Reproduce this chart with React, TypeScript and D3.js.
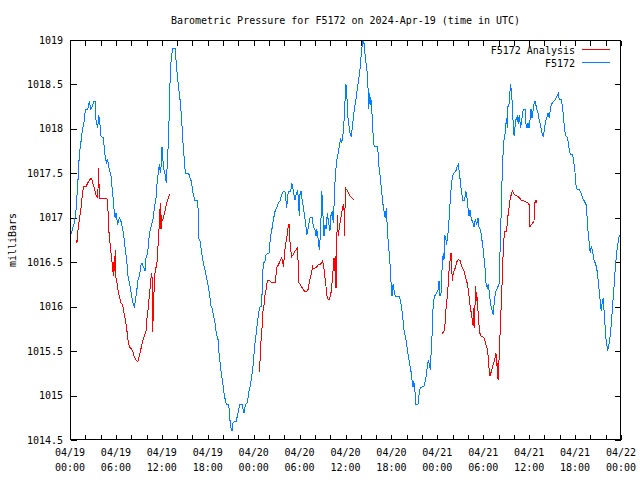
import React from 'react';
import * as d3 from 'd3';

const TITLE = 'Barometric Pressure for F5172 on 2024-Apr-19 (time in UTC)';
const Y_LABEL = 'milliBars';
const SERIES_NAMES = ['F5172 Analysis', 'F5172'];
const SERIES_COLORS = ['#ff0000', '#0080ff'];
const START_UTC = Date.UTC(2024, 3, 19);
const END_UTC = Date.UTC(2024, 3, 22);
const Y_DOMAIN = [1014.5, 1019];
const Y_TICKS = [1014.5, 1015, 1015.5, 1016, 1016.5, 1017, 1017.5, 1018, 1018.5, 1019];

// [hours since 2024-04-19 00:00 UTC, millibars]
const station: [number, number][] = [
[0,1016.78],[0.56,1016.94],[0.78,1017.08],[1.01,1017.37],[1.22,1017.71],[1.44,1017.86],[1.66,1018.01],[1.87,1018.09],[2.00,1018.22],[2.31,1018.22],[2.52,1018.31],[2.74,1018.22],[2.97,1018.27],[3.10,1018.31],[3.31,1018.31],[3.40,1018.10],[3.62,1018.01],[3.75,1018.16],[3.92,1018.05],[4.05,1017.92],[4.35,1017.90],[4.48,1017.79],[4.61,1017.67],[4.80,1017.62],[4.93,1017.65],[5.14,1017.54],[5.36,1017.47],[5.49,1017.35],[5.66,1017.20],[5.79,1017.05],[5.92,1017.00],[6.01,1017.05],[6.23,1016.92],[6.44,1017.00],[6.66,1016.96],[6.89,1016.87],[7.10,1016.75],[7.23,1016.64],[7.41,1016.53],[7.54,1016.36],[7.75,1016.27],[7.97,1016.17],[8.10,1016.10],[8.27,1016.02],[8.40,1016.00],[8.53,1016.06],[8.72,1016.17],[8.85,1016.29],[9.06,1016.34],[9.28,1016.47],[9.41,1016.49],[9.58,1016.45],[9.84,1016.40],[9.93,1016.55],[10.15,1016.60],[10.28,1016.74],[10.45,1016.85],[10.71,1016.94],[10.89,1017.00],[11.02,1017.11],[11.24,1017.22],[11.33,1017.35],[11.50,1017.48],[11.67,1017.60],[11.80,1017.52],[11.85,1017.50],[12.02,1017.80],[12.15,1017.64],[12.28,1017.54],[12.45,1017.48],[12.58,1017.39],[12.71,1017.60],[12.90,1017.95],[13.03,1018.42],[13.16,1018.72],[13.33,1018.85],[13.46,1018.91],[13.76,1018.91],[13.89,1018.72],[14.02,1018.61],[14.20,1018.46],[14.33,1018.37],[14.47,1018.25],[14.64,1018.03],[14.77,1017.84],[14.90,1017.69],[15.07,1017.50],[15.51,1017.50],[15.68,1017.45],[15.85,1017.41],[16.07,1017.28],[16.29,1017.20],[16.60,1017.20],[16.73,1017.11],[16.82,1016.77],[16.99,1016.74],[17.16,1016.64],[17.29,1016.55],[17.47,1016.47],[17.60,1016.43],[17.81,1016.34],[18.03,1016.25],[18.25,1016.13],[18.39,1016.02],[18.56,1015.98],[18.69,1015.93],[18.91,1015.84],[19.12,1015.70],[19.34,1015.63],[19.47,1015.48],[19.64,1015.35],[19.77,1015.25],[19.99,1015.12],[20.12,1015.03],[20.29,1014.95],[20.42,1014.90],[20.74,1014.90],[20.87,1014.75],[21.00,1014.65],[21.17,1014.60],[21.30,1014.69],[21.52,1014.71],[21.73,1014.71],[21.86,1014.77],[22.04,1014.84],[22.21,1014.90],[22.48,1014.90],[22.74,1014.80],[22.91,1014.90],[23.17,1014.92],[23.35,1015.03],[23.52,1015.10],[23.69,1015.18],[23.82,1015.27],[24.00,1015.39],[24.08,1015.52],[24.27,1015.65],[24.40,1015.76],[24.53,1015.85],[24.70,1015.95],[24.83,1016.00],[25.05,1016.00],[25.13,1016.27],[25.26,1016.49],[25.48,1016.51],[25.61,1016.58],[25.78,1016.60],[26.00,1016.60],[26.13,1016.72],[26.26,1016.81],[26.44,1016.90],[26.57,1016.98],[26.70,1017.03],[26.83,1017.09],[27.01,1017.11],[27.22,1017.17],[27.44,1017.19],[27.66,1017.26],[27.87,1017.30],[28.09,1017.30],[28.22,1017.19],[28.32,1017.11],[28.45,1017.26],[28.62,1017.30],[28.84,1017.30],[28.97,1017.39],[29.10,1017.34],[29.27,1017.26],[29.40,1017.20],[29.53,1017.26],[29.70,1017.30],[29.83,1017.24],[29.96,1017.02],[30.05,1017.26],[30.18,1017.30],[30.35,1017.19],[30.49,1017.13],[30.62,1017.03],[30.80,1016.94],[30.93,1016.81],[31.06,1016.85],[31.19,1016.92],[31.36,1017.00],[31.66,1017.00],[31.79,1016.90],[32.01,1016.87],[32.14,1016.79],[32.24,1016.87],[32.45,1016.75],[32.58,1016.64],[32.76,1016.87],[32.89,1017.30],[33.02,1017.15],[33.10,1016.90],[33.19,1016.79],[33.32,1016.92],[33.45,1016.87],[33.62,1017.05],[33.80,1016.94],[33.97,1016.85],[34.11,1017.03],[34.24,1017.07],[34.41,1016.94],[34.54,1017.22],[34.67,1017.48],[34.80,1017.60],[34.93,1017.69],[35.06,1017.73],[35.19,1017.80],[35.37,1017.90],[35.50,1017.84],[35.63,1017.90],[35.76,1018.01],[35.89,1018.25],[36.06,1018.50],[36.19,1018.35],[36.33,1018.12],[36.50,1018.01],[36.63,1017.93],[36.76,1017.92],[36.94,1018.05],[37.07,1018.16],[37.20,1018.25],[37.37,1018.33],[37.50,1018.42],[37.72,1018.55],[37.93,1018.70],[38.06,1018.85],[38.25,1018.99],[38.38,1019.00],[38.51,1018.87],[38.68,1018.74],[38.81,1018.65],[38.94,1018.46],[39.03,1018.22],[39.16,1018.40],[39.29,1018.27],[39.37,1018.33],[39.55,1018.03],[39.68,1017.82],[39.89,1017.80],[40.21,1017.80],[40.34,1017.60],[40.55,1017.45],[40.77,1017.26],[40.90,1017.15],[41.07,1017.05],[41.20,1017.00],[41.33,1017.11],[41.51,1016.81],[41.64,1016.66],[41.78,1016.55],[41.91,1016.32],[42.08,1016.12],[42.21,1016.25],[42.38,1016.17],[42.51,1016.12],[43.03,1016.12],[43.21,1016.06],[43.38,1015.95],[43.51,1015.85],[43.64,1015.74],[43.81,1015.67],[43.94,1015.61],[44.07,1015.52],[44.26,1015.42],[44.39,1015.35],[44.56,1015.27],[44.69,1015.18],[44.82,1015.10],[44.91,1015.16],[45.04,1015.10],[45.12,1014.99],[45.21,1014.90],[45.47,1014.90],[45.64,1015.03],[45.77,1015.09],[46.22,1015.10],[46.43,1015.16],[46.56,1015.23],[46.69,1015.33],[46.82,1015.40],[46.95,1015.35],[47.08,1015.29],[47.21,1015.52],[47.34,1015.72],[47.47,1016.06],[47.66,1016.12],[47.86,1016.15],[48.09,1016.19],[48.22,1016.29],[48.35,1016.12],[48.52,1016.17],[48.65,1016.51],[48.78,1016.60],[48.87,1016.53],[48.96,1016.81],[49.09,1016.77],[49.22,1016.70],[49.30,1016.77],[49.43,1016.85],[49.56,1017.02],[49.69,1017.20],[49.82,1017.35],[49.96,1017.45],[50.09,1017.50],[50.40,1017.52],[50.61,1017.58],[50.74,1017.60],[50.87,1017.52],[51.05,1017.37],[51.18,1017.28],[51.31,1017.20],[51.57,1017.20],[51.71,1017.30],[51.84,1017.26],[52.01,1017.11],[52.14,1017.02],[52.27,1017.09],[52.44,1016.98],[52.62,1016.96],[52.79,1016.90],[52.96,1016.98],[53.14,1016.92],[53.31,1017.00],[53.44,1016.90],[53.67,1016.85],[53.80,1016.77],[53.97,1016.66],[54.10,1016.55],[54.23,1016.43],[54.36,1016.27],[54.53,1016.21],[54.66,1016.25],[54.84,1016.12],[54.97,1016.02],[55.18,1015.95],[55.31,1015.91],[55.44,1016.06],[55.63,1016.17],[55.84,1016.21],[56.06,1016.25],[56.15,1016.51],[56.28,1016.85],[56.41,1017.30],[56.54,1017.64],[56.67,1017.86],[56.80,1017.90],[56.93,1018.03],[57.06,1018.12],[57.14,1018.01],[57.23,1018.25],[57.36,1018.27],[57.49,1018.42],[57.59,1018.50],[57.72,1018.37],[57.85,1018.22],[57.93,1017.97],[58.06,1017.92],[58.19,1018.07],[58.32,1018.12],[58.45,1018.14],[58.58,1018.05],[58.71,1018.16],[58.89,1018.01],[59.02,1018.10],[59.23,1018.22],[59.46,1018.22],[59.59,1018.05],[59.72,1018.01],[59.85,1018.07],[59.98,1018.01],[60.11,1018.10],[60.24,1018.22],[60.37,1018.12],[60.54,1018.22],[60.67,1018.31],[60.80,1018.31],[60.98,1018.22],[61.15,1018.18],[61.32,1018.10],[61.51,1018.03],[61.68,1017.95],[61.85,1017.91],[61.98,1017.99],[62.11,1018.07],[62.29,1018.12],[62.46,1018.18],[62.63,1018.12],[62.76,1018.22],[62.89,1018.27],[63.16,1018.31],[63.42,1018.33],[63.64,1018.37],[63.81,1018.40],[63.94,1018.33],[64.16,1018.33],[64.38,1018.24],[64.51,1018.10],[64.68,1017.97],[64.81,1017.92],[65.03,1017.90],[65.16,1017.80],[65.33,1017.73],[65.47,1017.71],[65.69,1017.71],[65.82,1017.64],[66.03,1017.48],[66.12,1017.37],[66.25,1017.32],[66.55,1017.32],[66.77,1017.28],[67.00,1017.22],[67.20,1017.19],[67.43,1017.15],[67.56,1017.02],[67.69,1016.85],[67.86,1016.70],[67.99,1016.60],[68.12,1016.68],[68.30,1016.62],[68.43,1016.53],[68.64,1016.49],[68.82,1016.44],[68.99,1016.32],[69.16,1016.17],[69.29,1016.06],[69.42,1015.95],[69.56,1016.06],[69.69,1016.10],[69.82,1015.91],[69.95,1015.74],[70.08,1015.59],[70.26,1015.52],[70.39,1015.55],[70.56,1015.65],[70.73,1015.80],[70.91,1016.02],[71.08,1016.21],[71.25,1016.43],[71.38,1016.55],[71.51,1016.66],[71.70,1016.77],[71.83,1016.81]
];

const analysisRun1: [number, number][] = [
[0.78,1016.75],[0.91,1016.72],[1.05,1016.87],[1.22,1016.98],[1.44,1017.11],[1.66,1017.30],[1.79,1017.35],[2.09,1017.35],[2.31,1017.39],[2.52,1017.42],[2.74,1017.44],[2.87,1017.43],[3.04,1017.37],[3.23,1017.32],[3.40,1017.26],[3.62,1017.22],[3.75,1017.56],[3.83,1017.22],[4.83,1017.22],[4.97,1017.07],[5.06,1016.87],[5.19,1016.75],[5.32,1016.64],[5.45,1016.53],[5.58,1016.43],[5.66,1016.34],[5.79,1016.57],[5.88,1016.40],[5.97,1016.64],[6.01,1016.32],[6.14,1016.27],[6.27,1016.19],[6.44,1016.12],[6.66,1016.04],[6.89,1016.02],[7.02,1015.95],[7.19,1015.87],[7.32,1015.80],[7.45,1015.72],[7.58,1015.63],[7.75,1015.55],[7.97,1015.53],[8.19,1015.50],[8.40,1015.44],[8.62,1015.40],[8.85,1015.38],[8.98,1015.42],[9.15,1015.48],[9.28,1015.53],[9.50,1015.61],[9.71,1015.67],[9.93,1015.72],[10.06,1015.87],[10.23,1015.98],[10.36,1016.12],[10.49,1016.23],[10.58,1016.32],[10.71,1016.38],[10.81,1015.72],[10.88,1015.95],[10.98,1016.17],[11.07,1016.32],[11.15,1016.43],[11.33,1016.45],[11.46,1016.62],[11.59,1016.81],[11.67,1016.94],[11.80,1017.17],[11.89,1016.87],[11.98,1017.03],[12.06,1016.96],[12.19,1017.00],[12.37,1017.05],[12.54,1017.13],[12.71,1017.19],[12.90,1017.23],[13.03,1017.27]
];

const analysisRun2: [number, number][] = [
[24.74,1015.27],[24.83,1015.39],[24.96,1015.61],[25.09,1015.76],[25.22,1015.95],[25.35,1016.02],[25.48,1016.13],[25.61,1016.19],[25.78,1016.29],[26.13,1016.29],[26.36,1016.27],[26.79,1016.27],[26.92,1016.36],[27.01,1016.44],[27.22,1016.47],[27.44,1016.51],[27.66,1016.55],[27.79,1016.51],[27.87,1016.45],[28.00,1016.55],[28.13,1016.68],[28.32,1016.77],[28.45,1016.87],[28.58,1016.92],[28.66,1016.92],[28.75,1016.72],[28.88,1016.62],[28.97,1016.56],[29.10,1016.58],[29.27,1016.60],[29.44,1016.63],[29.70,1016.66],[29.83,1016.47],[29.92,1016.27],[30.15,1016.24],[30.35,1016.21],[30.49,1016.19],[30.71,1016.17],[30.93,1016.17],[31.14,1016.20],[31.27,1016.27],[31.45,1016.34],[31.58,1016.40],[31.71,1016.45],[31.79,1016.43],[32.14,1016.44],[32.45,1016.47],[32.76,1016.48],[33.02,1016.52],[33.10,1016.47],[33.23,1016.40],[33.32,1016.32],[33.45,1016.23],[33.54,1016.13],[33.67,1016.09],[33.88,1016.08],[34.07,1016.13],[34.20,1016.23],[34.33,1016.36],[34.41,1016.45],[34.50,1016.55],[34.59,1016.40],[34.67,1016.57],[34.76,1016.21],[34.85,1016.62],[34.93,1017.03],[35.06,1016.79],[35.19,1016.89],[35.37,1016.98],[35.54,1017.07],[35.71,1017.15],[35.84,1017.07],[35.89,1016.79],[35.97,1017.35],[36.10,1017.32],[36.29,1017.30],[36.42,1017.27],[36.63,1017.24],[36.85,1017.22],[37.07,1017.20]
];

const analysisRun3: [number, number][] = [
[48.65,1015.70],[48.87,1015.72],[49.00,1015.80],[49.09,1015.93],[49.22,1016.06],[49.36,1016.15],[49.43,1016.29],[49.52,1016.40],[49.61,1016.47],[49.69,1016.55],[49.79,1016.60],[49.88,1016.43],[49.96,1016.29],[50.05,1016.36],[50.18,1016.40],[50.31,1016.43],[50.44,1016.47],[50.61,1016.52],[50.79,1016.53],[50.96,1016.52],[51.13,1016.47],[51.31,1016.43],[51.48,1016.40],[51.65,1016.34],[51.84,1016.29],[51.97,1016.23],[52.10,1016.15],[52.23,1016.04],[52.36,1015.97],[52.49,1015.89],[52.62,1015.82],[52.70,1015.78],[52.79,1015.99],[52.88,1015.76],[52.96,1016.23],[53.05,1016.06],[53.14,1016.17],[53.22,1016.06],[53.35,1015.91],[53.44,1015.80],[53.57,1015.70],[53.71,1015.67],[53.88,1015.67],[54.10,1015.65],[54.23,1015.61],[54.36,1015.57],[54.53,1015.53],[54.66,1015.42],[54.79,1015.27],[54.88,1015.22],[55.05,1015.27],[55.23,1015.33],[55.40,1015.37],[55.53,1015.42],[55.66,1015.48],[55.75,1015.33],[55.84,1015.37],[55.93,1015.18],[56.06,1015.40],[56.15,1015.59],[56.28,1015.87],[56.41,1016.15],[56.54,1016.43],[56.63,1016.70],[56.80,1016.85],[57.06,1016.85],[57.14,1016.96],[57.27,1017.05],[57.40,1017.13],[57.53,1017.22],[57.72,1017.28],[57.80,1017.30],[57.93,1017.28],[58.11,1017.26],[58.32,1017.25],[58.54,1017.24],[58.76,1017.22],[58.97,1017.20],[59.23,1017.19],[59.55,1017.18],[59.81,1017.17],[59.98,1017.15],[60.02,1016.92],[60.11,1016.90],[60.37,1016.93],[60.63,1016.96],[60.72,1017.15],[60.80,1017.20],[60.89,1017.17],[60.98,1017.20]
];

const FONT = '"DejaVu Sans Mono", "Liberation Mono", monospace';

export default function App() {
  const W = 640, H = 480;
  const left = 70, right = 621, top = 40, bottom = 440;
  const x = d3.scaleUtc().domain([new Date(START_UTC), new Date(END_UTC)]).range([left, right]);
  const y = d3.scaleLinear().domain(Y_DOMAIN).range([bottom, top]);
  const toDate = (h: number) => new Date(START_UTC + h * 3600000);
  const line = d3.line<[number, number]>()
    .x(d => x(toDate(d[0])))
    .y(d => y(d[1]));

  const majorTicks = d3.utcHour.every(6)!.range(new Date(START_UTC), new Date(END_UTC + 1));
  const minorTicks = d3.utcHour.every(2)!.range(new Date(START_UTC), new Date(END_UTC + 1));
  const fmtDay = d3.utcFormat('%m/%d');
  const fmtTime = d3.utcFormat('%H:%M');
  const px = (v: number) => Math.round(v) + 0.5;
  const L = px(left), R = px(right - 1), T = px(top), B = px(bottom - 1);
  const tick = 5;
  const analysisRuns = [analysisRun1, analysisRun2, analysisRun3];

  return (
    <svg width={W} height={H} style={{ position: 'absolute', left: 0, top: 0, background: '#fff' }}
      fontFamily={FONT} fontSize={10}>
      <rect x={0} y={0} width={W} height={H} fill="#fff" />
      <text x={345.5} y={24} textAnchor="middle" fill="#000">{TITLE}</text>
      <text transform="translate(16,240) rotate(-90)" textAnchor="middle" fill="#000">{Y_LABEL}</text>

      <g stroke="#000" strokeWidth={1} shapeRendering="crispEdges">
        {minorTicks.map((t, i) => {
          const xx = px(x(t));
          return (
            <g key={'mt' + i}>
              <line x1={xx} x2={xx} y1={B} y2={B - tick} />
              <line x1={xx} x2={xx} y1={T} y2={T + tick} />
            </g>
          );
        })}
        {Y_TICKS.map((v, i) => {
          const yy = px(y(v));
          return (
            <g key={'yt' + i}>
              <line x1={L} x2={L + 6} y1={yy} y2={yy} />
              <line x1={R} x2={R - 6} y1={yy} y2={yy} />
            </g>
          );
        })}
      </g>

      {Y_TICKS.map((v, i) => (
        <text key={'yl' + i} x={63} y={y(v) + 3.5} textAnchor="end" fill="#000">{String(v)}</text>
      ))}
      {majorTicks.map((t, i) => (
        <g key={'xl' + i}>
          <text x={x(t)} y={456} textAnchor="middle" fill="#000">{fmtDay(t)}</text>
          <text x={x(t)} y={471} textAnchor="middle" fill="#000">{fmtTime(t)}</text>
        </g>
      ))}

      <g fill="none" strokeWidth={1} shapeRendering="crispEdges">
        <path d={line(station) || ''} stroke={SERIES_COLORS[1]} />
        {analysisRuns.map((run, i) => (
          <path key={'ar' + i} d={line(run) || ''} stroke={SERIES_COLORS[0]} />
        ))}
      </g>

      <rect x={L} y={T} width={R - L} height={B - T} fill="none" stroke="#000" strokeWidth={1} shapeRendering="crispEdges" />

      {SERIES_NAMES.map((name, i) => (
        <g key={'lg' + i}>
          <text x={575} y={54 + i * 13} textAnchor="end" fill="#000">{name}</text>
          <line x1={582} x2={610} y1={49.5 + i * 13} y2={49.5 + i * 13} stroke={SERIES_COLORS[i]} strokeWidth={1} shapeRendering="crispEdges" />
        </g>
      ))}
    </svg>
  );
}
